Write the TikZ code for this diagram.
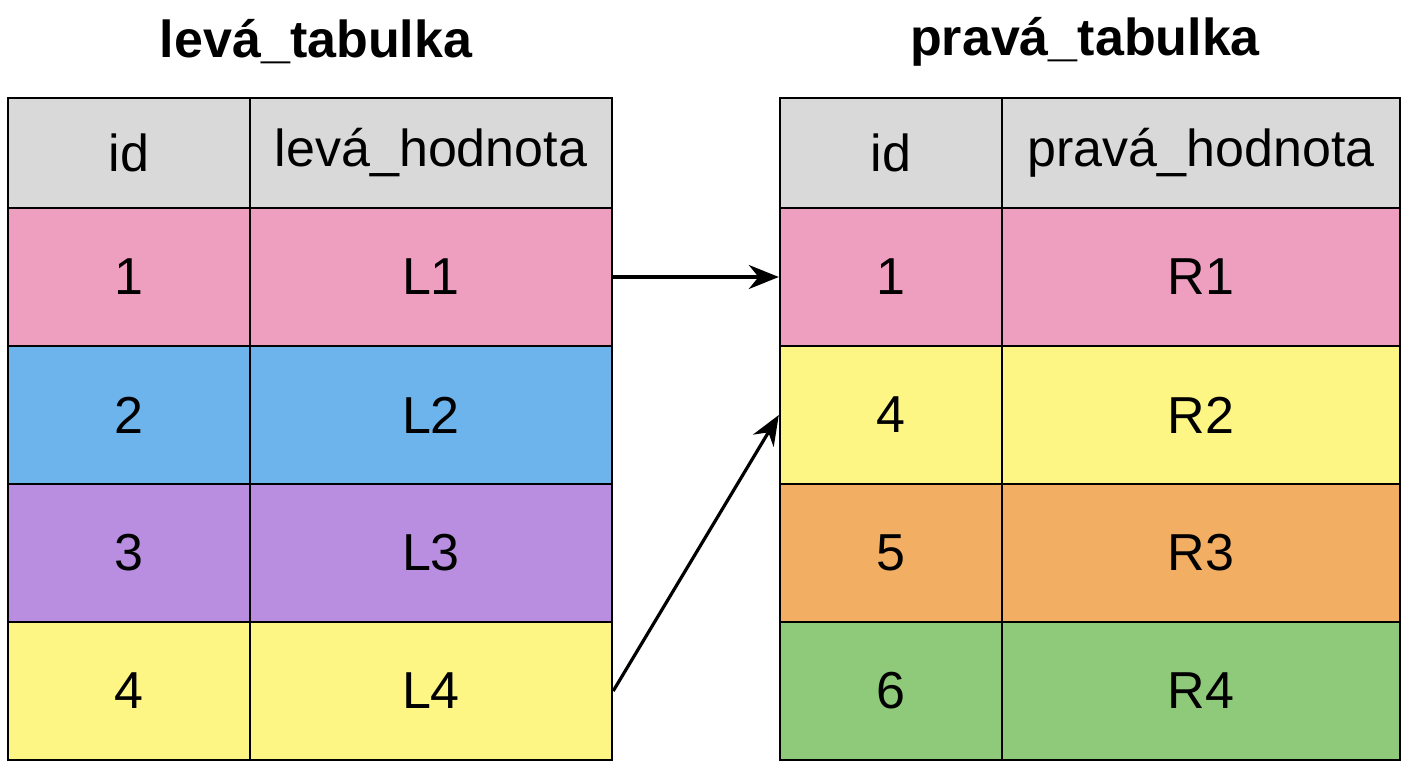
\documentclass[tikz,border=0pt]{standalone}
\usepackage{fontspec}
\setmainfont{Liberation Sans}
\usepackage{xcolor}
\usetikzlibrary{arrows.meta}
\definecolor{hdr}{RGB}{217,217,217}
\definecolor{pinkrow}{RGB}{238,159,191}
\definecolor{bluerow}{RGB}{109,179,236}
\definecolor{purplerow}{RGB}{185,142,224}
\definecolor{yellowrow}{RGB}{253,246,132}
\definecolor{orangerow}{RGB}{242,174,98}
\definecolor{greenrow}{RGB}{143,201,122}
\tikzset{
  cell/.style={draw=black, line width=2.4pt, inner sep=0pt, font=\fontsize{52}{56}\selectfont},
  title/.style={inner sep=0pt, font=\fontsize{52}{56}\selectfont\bfseries},
  link/.style={line width=3.2pt, -{Stealth[length=30pt, width=24pt]}}
}
\begin{document}
\begin{tikzpicture}[x=1pt,y=1pt,yscale=-1]
\useasboundingbox (0,0) rectangle (1408,768);

% Titles
\node[title] (ltitle) at (316,42) {levá\_tabulka};
\node[title] (rtitle) at (1085,42) {pravá\_tabulka};

% Left table
\node[cell, fill=hdr, minimum width=242pt, minimum height=110pt] (lh1) at (129,153) {id};
\node[cell, fill=hdr, minimum width=362pt, minimum height=110pt] (lh2) at (431,153) {levá\_hodnota};
\foreach \y/\c/\i/\v [count=\n] in {277/pinkrow/1/L1, 415/bluerow/2/L2, 553/purplerow/3/L3, 691/yellowrow/4/L4}{
  \node[cell, fill=\c, minimum width=242pt, minimum height=138pt] (la\n) at (129,\y) {\i};
  \node[cell, fill=\c, minimum width=362pt, minimum height=138pt] (lb\n) at (431,\y) {\v};
}

% Right table
\node[cell, fill=hdr, minimum width=222pt, minimum height=110pt] (rh1) at (891,153) {id};
\node[cell, fill=hdr, minimum width=398pt, minimum height=110pt] (rh2) at (1201,153) {pravá\_hodnota};
\foreach \y/\c/\i/\v [count=\n] in {277/pinkrow/1/R1, 415/yellowrow/4/R2, 553/orangerow/5/R3, 691/greenrow/6/R4}{
  \node[cell, fill=\c, minimum width=222pt, minimum height=138pt] (ra\n) at (891,\y) {\i};
  \node[cell, fill=\c, minimum width=398pt, minimum height=138pt] (rb\n) at (1201,\y) {\v};
}

% Matches
\draw[link] (lb1.east) -- (ra1.west);
\draw[link] (lb4.east) -- (ra2.west);
\end{tikzpicture}
\end{document}
